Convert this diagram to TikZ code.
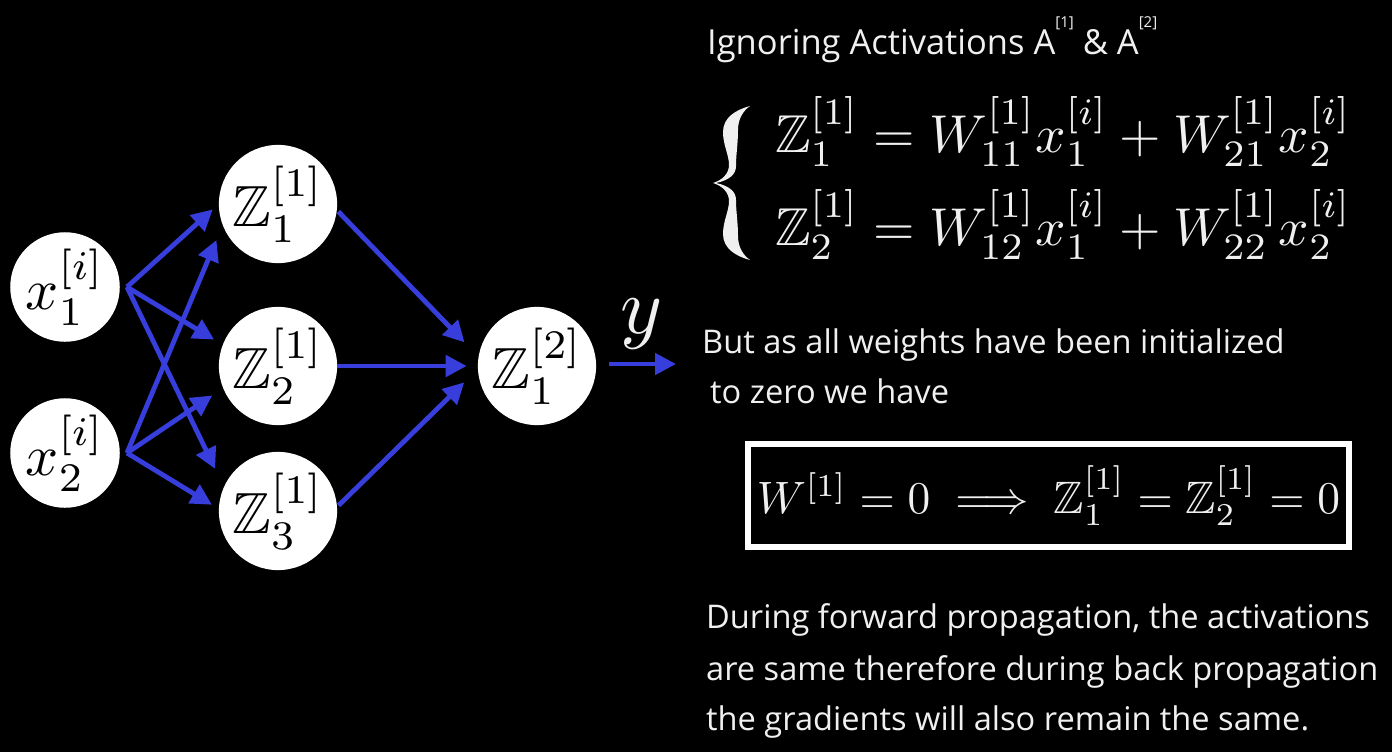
\documentclass[tikz,border=0pt]{standalone}
\usepackage{amsmath}
\usepackage{amssymb}
\usepackage{graphicx}
\usepackage[no-math]{fontspec}
\newfontfamily\osans{Open Sans}
\usetikzlibrary{arrows.meta}
\definecolor{arrblue}{RGB}{55,62,220}
\definecolor{txtwhite}{RGB}{240,240,240}
\begin{document}
\begin{tikzpicture}[x=1pt,y=-1pt,
  neuron/.style={circle,fill=white,minimum size=116pt,inner sep=0pt,text=black},
  inneuron/.style={neuron,minimum size=100pt},
  conn/.style={draw=arrblue,line width=4.8pt,-{Triangle[length=21pt,width=21pt]}},
  txt/.style={text=txtwhite,anchor=base west,inner sep=0pt,font=\osans\fontsize{32.6}{32.6}\selectfont},
  eqline/.style={text=txtwhite,anchor=base west,inner sep=0pt}]
\fill[black] (0,0) rectangle (1392,752);
% network nodes
\node[inneuron] (x1) at (65,287) {\scalebox{5.8}{$x_1^{[i]}$}};
\node[inneuron] (x2) at (65,453) {\scalebox{5.8}{$x_2^{[i]}$}};
\node[neuron] (z1) at (278,204) {\scalebox{5.8}{$\mathbb{Z}_1^{[1]}$}};
\node[neuron] (z2) at (278,366) {\scalebox{5.8}{$\mathbb{Z}_2^{[1]}$}};
\node[neuron] (z3) at (278,511) {\scalebox{5.8}{$\mathbb{Z}_3^{[1]}$}};
\node[neuron] (o) at (537,366) {\scalebox{5.8}{$\mathbb{Z}_1^{[2]}$}};
\coordinate (yend) at (676,364);
\node[text=txtwhite,inner sep=0pt] (ylab) at (642,324) {\scalebox{8}{$y$}};
% connectors
\draw[conn,shorten >=8pt]  ([xshift=7pt]x1.east) -- (z1.180);
\draw[conn,shorten >=16pt] ([xshift=7pt]x2.east) -- (z1.201);
\draw[conn,shorten >=10pt] ([xshift=7pt]x1.east) -- (z2.159);
\draw[conn,shorten >=13pt] ([xshift=7pt]x2.east) -- (z2.202);
\draw[conn,shorten >=20pt] ([xshift=7pt]x1.east) -- (z3.156);
\draw[conn,shorten >=8pt]  ([xshift=7pt]x2.east) -- (z3.178);
\draw[conn,shorten <=2pt,shorten >=20pt] (z1.-6) -- (o.171);
\draw[conn,shorten >=11pt] (z2.east) -- (o.west);
\draw[conn,shorten <=2pt,shorten >=19pt] (z3.4) -- (o.183);
\draw[conn] ([xshift=13pt,yshift=2pt]o.east) -- (yend);
% right side
\node[txt,font=\osans\fontsize{34.5}{34.5}\selectfont] (t1) at (707,55) {Ignoring Activations A\raisebox{27pt}{\fontsize{15}{15}\selectfont[1]} \& A\raisebox{27pt}{\fontsize{15}{15}\selectfont[2]}};
% curly brace
\fill[txtwhite] (750,106) .. controls (735,110) and (723,118) .. (723,132)
  .. controls (723,145) and (729,155) .. (729,165)
  .. controls (729,173) and (723,180) .. (713,183)
  .. controls (723,186) and (729,193) .. (729,201)
  .. controls (729,211) and (723,221) .. (723,234)
  .. controls (723,248) and (735,256) .. (750,260)
  .. controls (743,255) and (738,247) .. (738,236)
  .. controls (738,222) and (736,212) .. (736,200)
  .. controls (736,192) and (730,186) .. (716,183)
  .. controls (730,180) and (736,174) .. (736,166)
  .. controls (736,154) and (738,144) .. (738,130)
  .. controls (738,119) and (743,111) .. (750,106) -- cycle;
\node[eqline] (eq1) at (775,152) {\scalebox{5.33}{$\mathbb{Z}_1^{[1]} = W_{11}^{[1]}x_1^{[i]} + W_{21}^{[1]}x_2^{[i]}$}};
\node[eqline] (eq2) at (775,245) {\scalebox{5.33}{$\mathbb{Z}_2^{[1]} = W_{12}^{[1]}x_1^{[i]} + W_{22}^{[1]}x_2^{[i]}$}};
\node[txt] (t2) at (702,353) {But as all weights have been initialized};
\node[txt] (t3) at (710,403) {to zero we have};
\node[draw=white,line width=6pt,minimum width=601pt,minimum height=103pt,inner sep=0pt,text=txtwhite] (box) at (1048.5,495.5)
  {\scalebox{4.54}{$W^{[1]} = 0 \implies \mathbb{Z}_1^{[1]} = \mathbb{Z}_2^{[1]} = 0$}};
\node[txt] (t4) at (706,628) {During forward propagation, the activations};
\node[txt] (t5) at (706,680) {are same therefore during back propagation};
\node[txt] (t6) at (706,730) {the gradients will also remain the same.};
\end{tikzpicture}
\end{document}
